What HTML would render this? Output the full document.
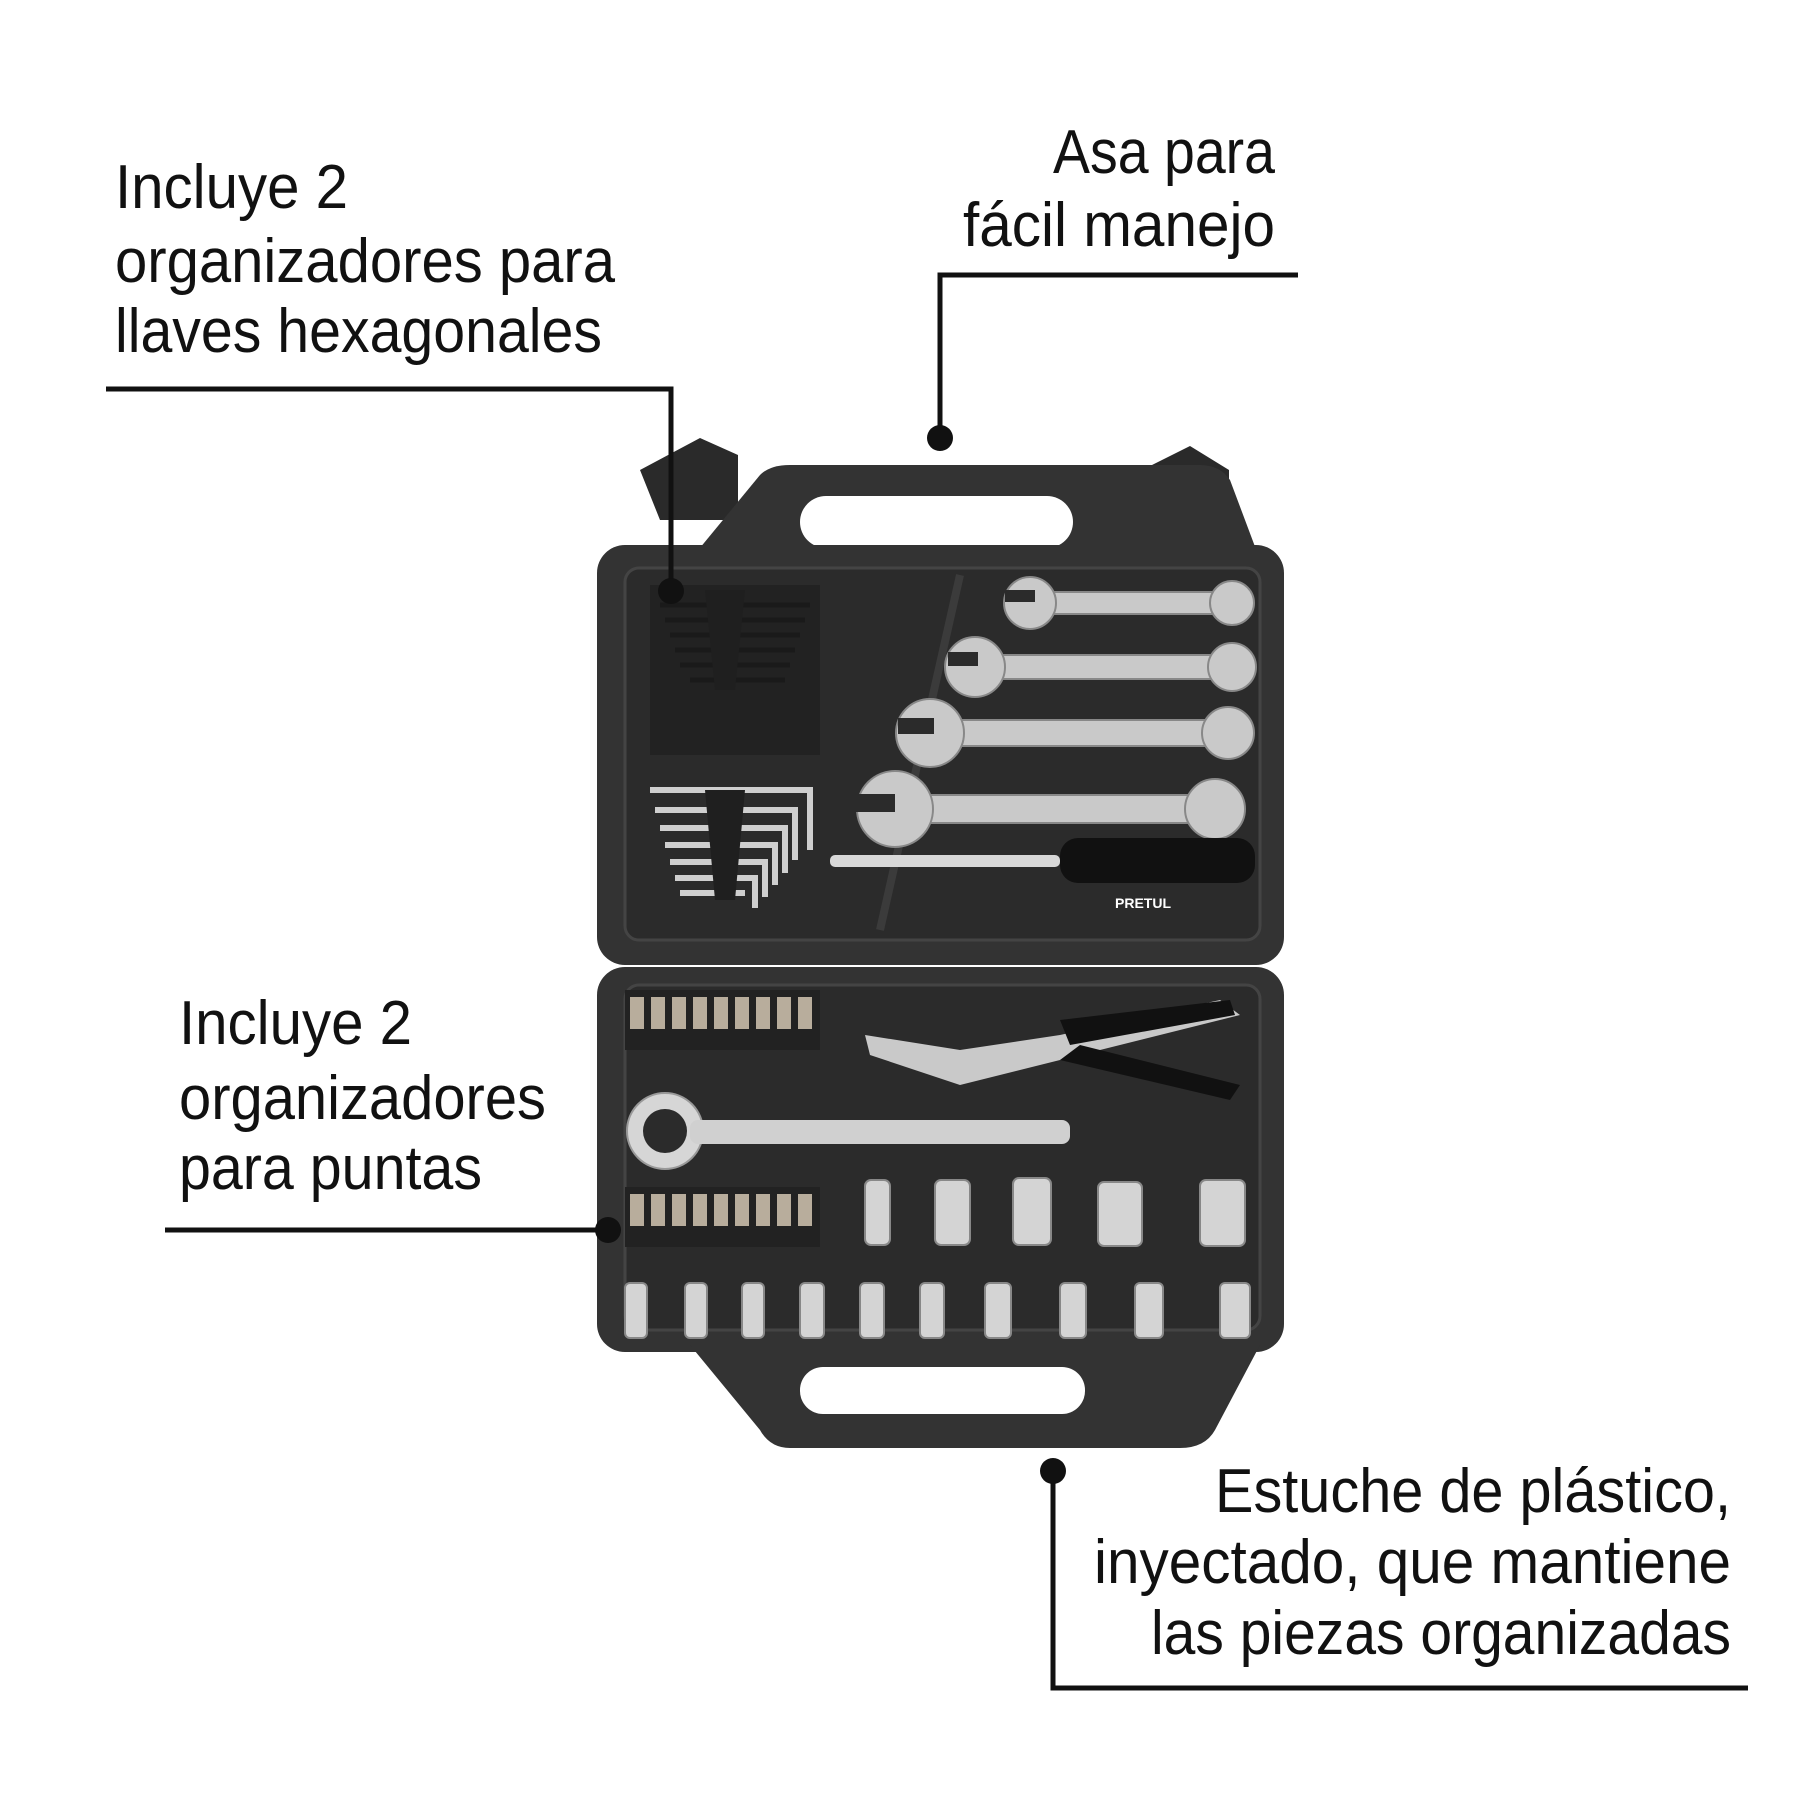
<!DOCTYPE html>
<html><head><meta charset="utf-8"><style>
html,body{margin:0;padding:0;background:#fff;}
svg{display:block}
text{font-family:"Liberation Sans",sans-serif;fill:#111;font-size:62px;}
</style></head><body>
<svg width="1800" height="1800" viewBox="0 0 1800 1800" xmlns="http://www.w3.org/2000/svg">
<!-- labels -->
<text x="115" y="208" textLength="233" lengthAdjust="spacingAndGlyphs">Incluye 2</text>
<text x="115" y="282" textLength="500" lengthAdjust="spacingAndGlyphs">organizadores para</text>
<text x="115" y="352" textLength="487" lengthAdjust="spacingAndGlyphs">llaves hexagonales</text>
<text x="1053" y="173" textLength="222" lengthAdjust="spacingAndGlyphs">Asa para</text>
<text x="963" y="246" textLength="312" lengthAdjust="spacingAndGlyphs">fácil manejo</text>
<text x="179" y="1044" textLength="233" lengthAdjust="spacingAndGlyphs">Incluye 2</text>
<text x="179" y="1119" textLength="367" lengthAdjust="spacingAndGlyphs">organizadores</text>
<text x="179" y="1189" textLength="303" lengthAdjust="spacingAndGlyphs">para puntas</text>
<text x="1215" y="1512" textLength="516" lengthAdjust="spacingAndGlyphs">Estuche de plástico,</text>
<text x="1094" y="1583" textLength="637" lengthAdjust="spacingAndGlyphs">inyectado, que mantiene</text>
<text x="1151" y="1654" textLength="580" lengthAdjust="spacingAndGlyphs">las piezas organizadas</text>

<!-- case top latches -->
<path d="M640 470 L700 438 L738 455 L738 520 L660 520 Z" fill="#2a2a2a"/>
<path d="M1142 470 L1190 446 L1229 470 L1229 520 L1142 520 Z" fill="#2a2a2a"/>
<!-- top handle -->
<path d="M690 560 L760 475 Q770 465 790 465 L1200 465 Q1220 465 1230 480 L1260 560 Z" fill="#333"/>
<rect x="800" y="496" width="273" height="52" rx="26" fill="#fff"/>
<!-- top half -->
<rect x="597" y="545" width="687" height="420" rx="28" fill="#333"/>
<rect x="625" y="568" width="635" height="372" rx="14" fill="#2b2b2b" stroke="#444" stroke-width="3"/>
<path d="M960 575 L880 930" stroke="#3b3b3b" stroke-width="8"/>
<!-- hex keys -->
<rect x="650" y="585" width="170" height="170" fill="#222"/>
<g stroke="#1a1a1a" stroke-width="5">
<path d="M660 605h150M665 620h140M670 635h130M675 650h120M680 665h110M690 680h95"/>
</g>
<g stroke="#cfcfcf" stroke-width="6" fill="none">
<path d="M650 790h160v60M655 810h140v50M660 828h125v45M665 845h110v40M670 862h95v35M675 878h80v30M680 893h65"/>
</g>
<path d="M705 790 L745 790 L735 900 L715 900 Z" fill="#1f1f1f"/>
<path d="M705 590 L745 590 L735 690 L715 690 Z" fill="#1f1f1f"/>
<!-- wrenches -->
<g fill="#c9c9c9" stroke="#888" stroke-width="2">
<rect x="1030" y="592" width="210" height="22" rx="10"/><circle cx="1232" cy="603" r="22"/><circle cx="1030" cy="603" r="26"/>
<rect x="980" y="655" width="260" height="24" rx="10"/><circle cx="1232" cy="667" r="24"/><circle cx="975" cy="667" r="30"/>
<rect x="935" y="720" width="305" height="26" rx="10"/><circle cx="1228" cy="733" r="26"/><circle cx="930" cy="733" r="34"/>
<rect x="900" y="795" width="330" height="28" rx="10"/><circle cx="1215" cy="809" r="30"/><circle cx="895" cy="809" r="38"/>
</g>
<g fill="#2b2b2b"><rect x="1005" y="590" width="30" height="12"/><rect x="948" y="652" width="30" height="14"/><rect x="898" y="718" width="36" height="16"/><rect x="855" y="794" width="40" height="18"/></g>
<!-- screwdriver -->
<rect x="830" y="855" width="230" height="12" rx="5" fill="#d8d8d8"/>
<rect x="1060" y="838" width="195" height="45" rx="18" fill="#111"/>
<text x="1115" y="908" style="font-size:14px;fill:#fff;font-weight:bold">PRETUL</text>

<!-- bottom half -->
<rect x="597" y="967" width="687" height="385" rx="28" fill="#333"/>
<rect x="625" y="985" width="635" height="345" rx="14" fill="#2b2b2b" stroke="#444" stroke-width="3"/>
<!-- bits -->
<rect x="625" y="990" width="195" height="60" fill="#222"/>
<g fill="#b8ad9c"><rect x="630" y="997" width="14" height="32"/><rect x="651" y="997" width="14" height="32"/><rect x="672" y="997" width="14" height="32"/><rect x="693" y="997" width="14" height="32"/><rect x="714" y="997" width="14" height="32"/><rect x="735" y="997" width="14" height="32"/><rect x="756" y="997" width="14" height="32"/><rect x="777" y="997" width="14" height="32"/><rect x="798" y="997" width="14" height="32"/></g>
<rect x="625" y="1187" width="195" height="60" fill="#222"/>
<g fill="#b8ad9c"><rect x="630" y="1194" width="14" height="32"/><rect x="651" y="1194" width="14" height="32"/><rect x="672" y="1194" width="14" height="32"/><rect x="693" y="1194" width="14" height="32"/><rect x="714" y="1194" width="14" height="32"/><rect x="735" y="1194" width="14" height="32"/><rect x="756" y="1194" width="14" height="32"/><rect x="777" y="1194" width="14" height="32"/><rect x="798" y="1194" width="14" height="32"/></g>
<!-- pliers -->
<path d="M865 1035 L960 1050 L1060 1035 L1220 1000 L1240 1015 L1060 1060 L960 1085 L870 1055 Z" fill="#c9c9c9"/>
<path d="M1060 1060 L1230 1100 L1240 1085 L1080 1045 Z" fill="#111"/>
<path d="M1060 1020 L1230 1000 L1235 1015 L1070 1045 Z" fill="#111"/>
<!-- ratchet -->
<circle cx="665" cy="1131" r="38" fill="#d6d6d6" stroke="#999" stroke-width="2"/>
<circle cx="665" cy="1131" r="22" fill="#2b2b2b"/>
<rect x="690" y="1120" width="380" height="24" rx="8" fill="#d0d0d0"/>
<!-- sockets -->
<g fill="#d4d4d4" stroke="#888" stroke-width="2">
<rect x="865" y="1180" width="25" height="65" rx="6"/>
<rect x="935" y="1180" width="35" height="65" rx="6"/>
<rect x="1013" y="1178" width="38" height="67" rx="6"/>
<rect x="1098" y="1182" width="44" height="64" rx="6"/>
<rect x="1200" y="1180" width="45" height="66" rx="6"/>
<rect x="625" y="1283" width="22" height="55" rx="5"/>
<rect x="685" y="1283" width="22" height="55" rx="5"/>
<rect x="742" y="1283" width="22" height="55" rx="5"/>
<rect x="800" y="1283" width="24" height="55" rx="5"/>
<rect x="860" y="1283" width="24" height="55" rx="5"/>
<rect x="920" y="1283" width="24" height="55" rx="5"/>
<rect x="985" y="1283" width="26" height="55" rx="5"/>
<rect x="1060" y="1283" width="26" height="55" rx="5"/>
<rect x="1135" y="1283" width="28" height="55" rx="5"/>
<rect x="1220" y="1283" width="30" height="55" rx="5"/>
</g>
<!-- bottom handle -->
<path d="M690 1345 L1260 1345 L1215 1430 Q1205 1448 1180 1448 L790 1448 Q770 1448 760 1430 Z" fill="#333"/>
<rect x="800" y="1367" width="285" height="47" rx="23" fill="#fff"/>

<!-- connectors -->
<g stroke="#111" stroke-width="5" fill="none">
<path d="M106 389 H671 V590"/>
<path d="M1298 275 H940 V438"/>
<path d="M165 1230 H608"/>
<path d="M1053 1471 V1688 H1748"/>
</g>
<g fill="#111">
<circle cx="671" cy="591" r="13"/>
<circle cx="940" cy="438" r="13"/>
<circle cx="608" cy="1230" r="13"/>
<circle cx="1053" cy="1471" r="13"/>
</g>
</svg>
</body></html>
